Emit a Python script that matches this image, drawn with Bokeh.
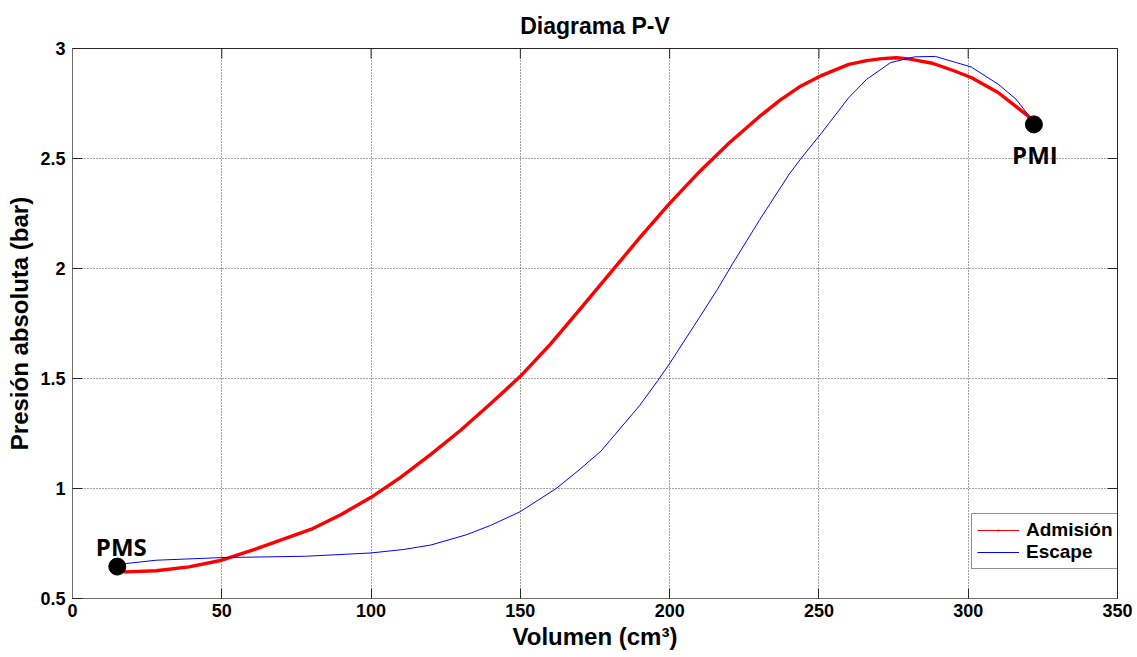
import math
from bokeh.plotting import figure
from bokeh.models import Range1d, FixedTicker, Legend, LegendItem
from bokeh.embed import file_html
from bokeh.resources import INLINE
from bokeh.core.properties import value

# ---- data ----
vol_adm = [15, 18, 28, 39, 50, 61, 73, 80, 90, 100, 110, 120, 130, 140, 150, 160,
           170, 180, 190, 200, 210, 220, 230, 237, 244, 251, 260, 266, 271, 276,
           280, 288, 295, 301, 310, 315, 320, 322]
p_adm = [0.625, 0.621, 0.626, 0.644, 0.674, 0.723, 0.781, 0.815, 0.882, 0.96, 1.052,
         1.155, 1.265, 1.385, 1.51, 1.655, 1.815, 1.978, 2.14, 2.296, 2.44, 2.572,
         2.69, 2.765, 2.83, 2.878, 2.928, 2.945, 2.954, 2.958, 2.953, 2.933, 2.90,
         2.868, 2.80, 2.747, 2.694, 2.66]

vol_esc = [15, 18, 28, 50, 78, 100, 111, 120, 132, 140, 150, 162, 170, 177, 180,
           190, 196, 200, 210, 216, 221, 230, 240, 244, 251, 260, 266, 274, 282,
           289, 296, 301, 310, 316, 320, 322]
p_esc = [0.656, 0.659, 0.674, 0.686, 0.692, 0.707, 0.723, 0.743, 0.79, 0.832, 0.895,
         1.0, 1.088, 1.17, 1.218, 1.378, 1.49, 1.568, 1.778, 1.905, 2.02, 2.218,
         2.428, 2.5, 2.618, 2.777, 2.86, 2.936, 2.962, 2.964, 2.936, 2.916, 2.838,
         2.77, 2.70, 2.66]

pm_vol = [15, 322]
pm_p = [0.645, 2.655]
pm_labels = ["PMS", "PMI"]

x_ticks = [0, 50, 100, 150, 200, 250, 300, 350]
y_ticks = [0.5, 1, 1.5, 2, 2.5, 3]
y_tick_labels = ["0.5", "1", "1.5", "2", "2.5", "3"]

FONT = "Liberation Sans"
DARK = "#262626"

p = figure(width=1132, height=655, output_backend="svg", toolbar_location=None,
           x_range=Range1d(0, 350), y_range=Range1d(0.5, 3),
           min_border_left=72, min_border_right=15, min_border_top=47,
           min_border_bottom=57, title="Diagrama P-V")
p.background_fill_color = "white"
p.border_fill_color = "white"
p.outline_line_color = DARK

p.title.align = "center"
p.title.text_font = FONT
p.title.text_font_size = "23px"
p.title.text_font_style = "bold"
p.title.text_color = "black"
p.title.standoff = 20

for ax in (p.xaxis[0], p.yaxis[0]):
    ax.major_tick_in = 10
    ax.major_tick_out = 0
    ax.minor_tick_line_color = None
    ax.axis_line_color = "#6e6e6e"
    ax.major_tick_line_color = DARK
    ax.major_label_text_font = FONT
    ax.major_label_text_font_size = "18px"
    ax.major_label_text_font_style = "bold"
    ax.major_label_text_color = "black"
    ax.axis_label_text_font = FONT
    ax.axis_label_text_font_size = "24px"
    ax.axis_label_text_font_style = "bold"
    ax.axis_label_text_color = "black"

p.xaxis[0].major_label_standoff = 5
p.xaxis[0].axis_label_standoff = 3
p.yaxis[0].major_label_standoff = 7
p.yaxis[0].axis_label_standoff = 4

p.xaxis[0].ticker = FixedTicker(ticks=x_ticks)
p.yaxis[0].ticker = FixedTicker(ticks=y_ticks)
p.yaxis[0].major_label_overrides = {t: s for t, s in zip(y_ticks, y_tick_labels)}
p.xaxis[0].axis_label = "Volumen (cm³)"
p.yaxis[0].axis_label = "Presión absoluta (bar)"

p.xgrid.ticker = FixedTicker(ticks=x_ticks)
p.ygrid.ticker = FixedTicker(ticks=y_ticks)
for g in (p.xgrid[0], p.ygrid[0]):
    g.grid_line_color = "#1a1a1a"
    g.grid_line_dash = "1 2"
    g.grid_line_alpha = 0.8

# inward ticks on the top and right edges (half of each dash is clipped by the frame)
p.scatter(x=x_ticks, y=[p.y_range.end] * len(x_ticks), marker="dash",
          angle=math.pi / 2, size=20, line_color=DARK, line_width=1)
p.scatter(x=[p.x_range.end] * len(y_ticks), y=y_ticks, marker="dash",
          size=20, line_color=DARK, line_width=1)

# curves
p.line(vol_adm, p_adm, line_color="red", line_width=3.4, line_join="round")
adm_thin = p.line(vol_adm, p_adm, line_color="red", line_width=1)
adm_mark = p.scatter(vol_adm, p_adm, marker="dot", size=3, line_color="red",
                     fill_color="red", line_width=2)
esc_line = p.line(vol_esc, p_esc, line_color="blue", line_width=1, line_join="round")

# PMS / PMI markers
p.scatter(pm_vol, pm_p, marker="circle", size=17, fill_color="black", line_color="black")
p.text(x=[pm_vol[0]], y=[pm_p[0]], text=[pm_labels[0]], x_offset=4, y_offset=-20,
       text_align="center", text_baseline="alphabetic", text_font=value("Open Sans"),
       text_font_size="24px", text_font_style="bold", text_color="black")
p.text(x=[pm_vol[1]], y=[pm_p[1]], text=[pm_labels[1]], x_offset=1, y_offset=30,
       text_align="center", text_baseline="alphabetic", text_font=value("Open Sans"),
       text_font_size="24px", text_font_style="bold", text_color="black")

legend = Legend(items=[LegendItem(label="Admisión", renderers=[adm_thin, adm_mark]),
                       LegendItem(label="Escape", renderers=[esc_line])],
                location=(899, 29), padding=5, spacing=0, margin=0,
                glyph_width=42, glyph_height=22, label_height=22, label_standoff=7,
                label_text_font=FONT, label_text_font_size="19px",
                label_text_font_style="bold", label_text_color="black",
                border_line_color=DARK, border_line_width=1,
                background_fill_color="white", background_fill_alpha=1)
p.add_layout(legend, "center")

open("out.html", "w").write(file_html(p, INLINE))
